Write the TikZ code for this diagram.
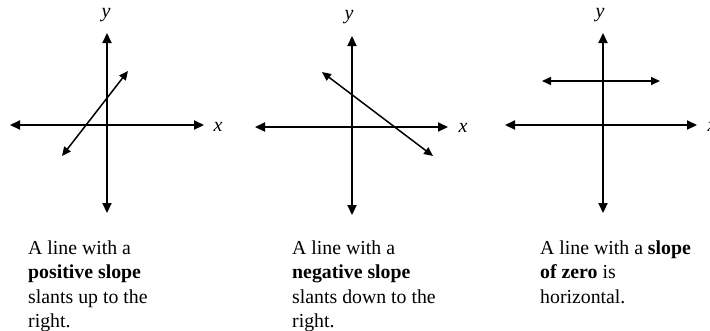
\documentclass[tikz,border=0pt]{standalone}
\usepackage{fontspec}
\setmainfont{Liberation Serif}
\usetikzlibrary{arrows.meta}
\tikzset{
	ax/.style={{Triangle[length=10pt,width=9pt]}-{Triangle[length=10pt,width=9pt]}, line width=2.2pt},
	ln/.style={{Triangle[length=9pt,width=8pt]}-{Triangle[length=9pt,width=8pt]}, line width=1.5pt},
	lbl/.style={inner sep=0pt, font=\fontsize{20}{24}\selectfont\itshape},
	desc/.style={anchor=north west, align=left, inner sep=0pt, font=\fontsize{19.8}{24.5}\selectfont}
}

\begin{document}
\begin{tikzpicture}[x=1pt, y=-1pt]
	\useasboundingbox (0,0) rectangle (710,330);
	% positive slope
	\coordinate (p1t) at (107,33);
	\coordinate (p1b) at (107,213);
	\coordinate (p1l) at (10,125);
	\coordinate (p1r) at (204,125);
	\coordinate (p1a) at (62,156);
	\coordinate (p1c) at (128,71);
	\draw[ax] (p1b) -- (p1t);
	\draw[ax] (p1l) -- (p1r);
	\draw[ln] (p1a) -- (p1c);
	\node[lbl] (p1y) at (106,15) {y};
	\node[lbl] (p1x) at (218,127) {x};
	\node[desc] (p1txt) at (28,240.5) {A line with a\\ \textbf{positive slope}\\ slants up to the\\ right.};
	% negative slope
	\coordinate (p2t) at (352,36);
	\coordinate (p2b) at (352,215);
	\coordinate (p2l) at (255,127);
	\coordinate (p2r) at (448,127);
	\coordinate (p2a) at (322,72);
	\coordinate (p2c) at (433,156);
	\draw[ax] (p2b) -- (p2t);
	\draw[ax] (p2l) -- (p2r);
	\draw[ln] (p2a) -- (p2c);
	\node[lbl] (p2y) at (349,17) {y};
	\node[lbl] (p2x) at (463,128) {x};
	\node[desc] (p2txt) at (292,240.5) {A line with a\\ \textbf{negative slope}\\ slants down to the\\ right.};
	% zero slope
	\coordinate (p3t) at (603,33);
	\coordinate (p3b) at (603,213);
	\coordinate (p3l) at (505,125);
	\coordinate (p3r) at (697,125);
	\coordinate (p3a) at (542,81);
	\coordinate (p3c) at (660,81);
	\draw[ax] (p3b) -- (p3t);
	\draw[ax] (p3l) -- (p3r);
	\draw[ln] (p3a) -- (p3c);
	\node[lbl] (p3y) at (600,15) {y};
	\node[lbl] (p3x) at (712,127) {x};
	\node[desc] (p3txt) at (540,240.5) {A line with a \textbf{slope}\\ \textbf{of zero} is\\ horizontal.};
\end{tikzpicture}
\end{document}
